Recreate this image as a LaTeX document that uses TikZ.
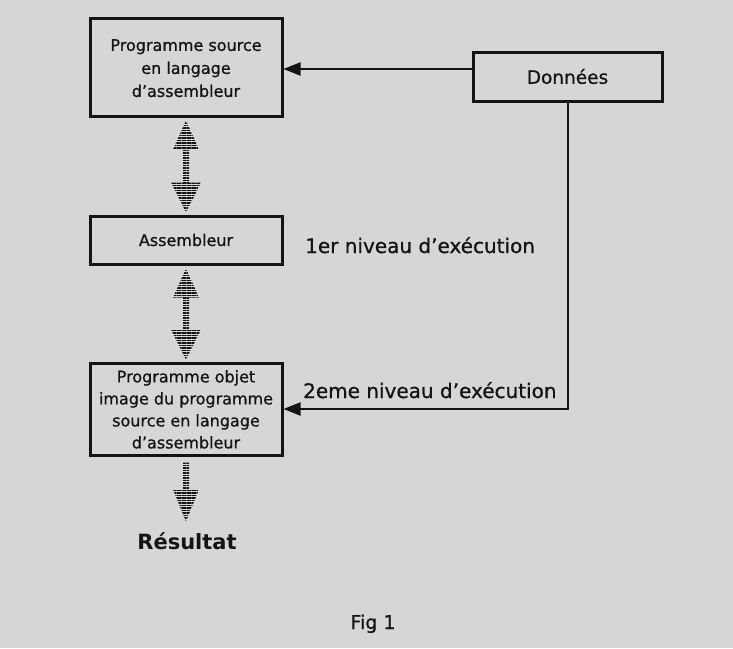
\documentclass[tikz,border=0pt]{standalone}
\usepackage{fontspec}
\setmainfont{DejaVu Sans}
\newfontfamily\rgfont[FakeBold=0.8]{DejaVu Sans}
\usetikzlibrary{arrows.meta,patterns.meta,calc}
\definecolor{bg}{RGB}{214,214,214}
\definecolor{ink}{RGB}{20,20,20}
\tikzset{
  box/.style={draw=ink, line width=3pt, inner sep=0pt, align=center, text=ink},
  conn/.style={draw=ink, line width=2pt},
  tipend/.style={-{Triangle[length=17pt,width=13pt]}},
  hatch/.style={pattern={Lines[angle=0,distance=2.5pt,line width=1.5pt]}, pattern color=ink},
  lbl/.style={font=\rgfont\fontsize{20}{24}\selectfont, anchor=base west, inner sep=0pt, text=ink},
}
\newcommand\dblhatch[2]{%
  \path[hatch] let \p1=($(#1)+(0,3)$), \p2=($(#2)+(0,-2)$) in
    (\x1,\y1) -- (\x1+13pt,\y1-29pt) -- (\x1+3pt,\y1-29pt) -- (\x1+3pt,\y2+30pt)
    -- (\x1+15pt,\y2+30pt) -- (\x1,\y2) -- (\x1-15pt,\y2+30pt) -- (\x1-3pt,\y2+30pt)
    -- (\x1-3pt,\y1-29pt) -- (\x1-13pt,\y1-29pt) -- cycle;}
\newcommand\downhatch[1]{%
  \path[hatch] let \p1=($(#1)+(0,6)$) in
    (\x1-3pt,\y1) -- (\x1+3pt,\y1) -- (\x1+3pt,\y1-27pt) -- (\x1+13pt,\y1-27pt)
    -- (\x1,\y1-59pt) -- (\x1-13pt,\y1-27pt) -- (\x1-3pt,\y1-27pt) -- cycle;}
\begin{document}
\begin{tikzpicture}[x=1pt,y=-1pt]
  \useasboundingbox (0,0) rectangle (733,648);
  \fill[bg] (0,0) rectangle (733,648);

  \node[box, minimum width=192pt, minimum height=98pt, font=\rgfont\fontsize{16}{23}\selectfont]
    (b1) at (186,67) {\rule{0pt}{14pt}Programme source\\en langage\\d’assembleur};
  \node[box, minimum width=192pt, minimum height=48pt, font=\rgfont\fontsize{16}{20}\selectfont]
    (b2) at (186,240) {Assembleur};
  \node[box, minimum width=192pt, minimum height=92pt, font=\rgfont\fontsize{16}{22}\selectfont]
    (b3) at (186,409) {\rule{0pt}{13pt}Programme objet\\image du programme\\source en langage\\d’assembleur};
  \node[box, minimum width=189pt, minimum height=49pt, font=\rgfont\fontsize{18.5}{22}\selectfont]
    (don) at (567.5,76.5) {Données};

  \coordinate (y69) at (0,69);
  \draw[conn,tipend] (don.west |- y69) -- (b1.east |- y69);
  \draw[conn,tipend] (don.south) |- (b3.east);

  \dblhatch{b1.south}{b2.north}
  \dblhatch{b2.south}{b3.north}
  \downhatch{b3.south}

  \node[anchor=base, inner sep=0pt, text=ink, font=\bfseries\fontsize{21}{24}\selectfont] (res) at (187,549) {Résultat};
  \node[lbl] (n1) at (305,253) {1er niveau d’exécution};
  \node[lbl] (n2) at (303,398) {2eme niveau d’exécution};
  \node[anchor=base, inner sep=0pt, text=ink, font=\rgfont\fontsize{19}{22}\selectfont] (fig) at (373,629) {Fig 1};
\end{tikzpicture}
\end{document}
